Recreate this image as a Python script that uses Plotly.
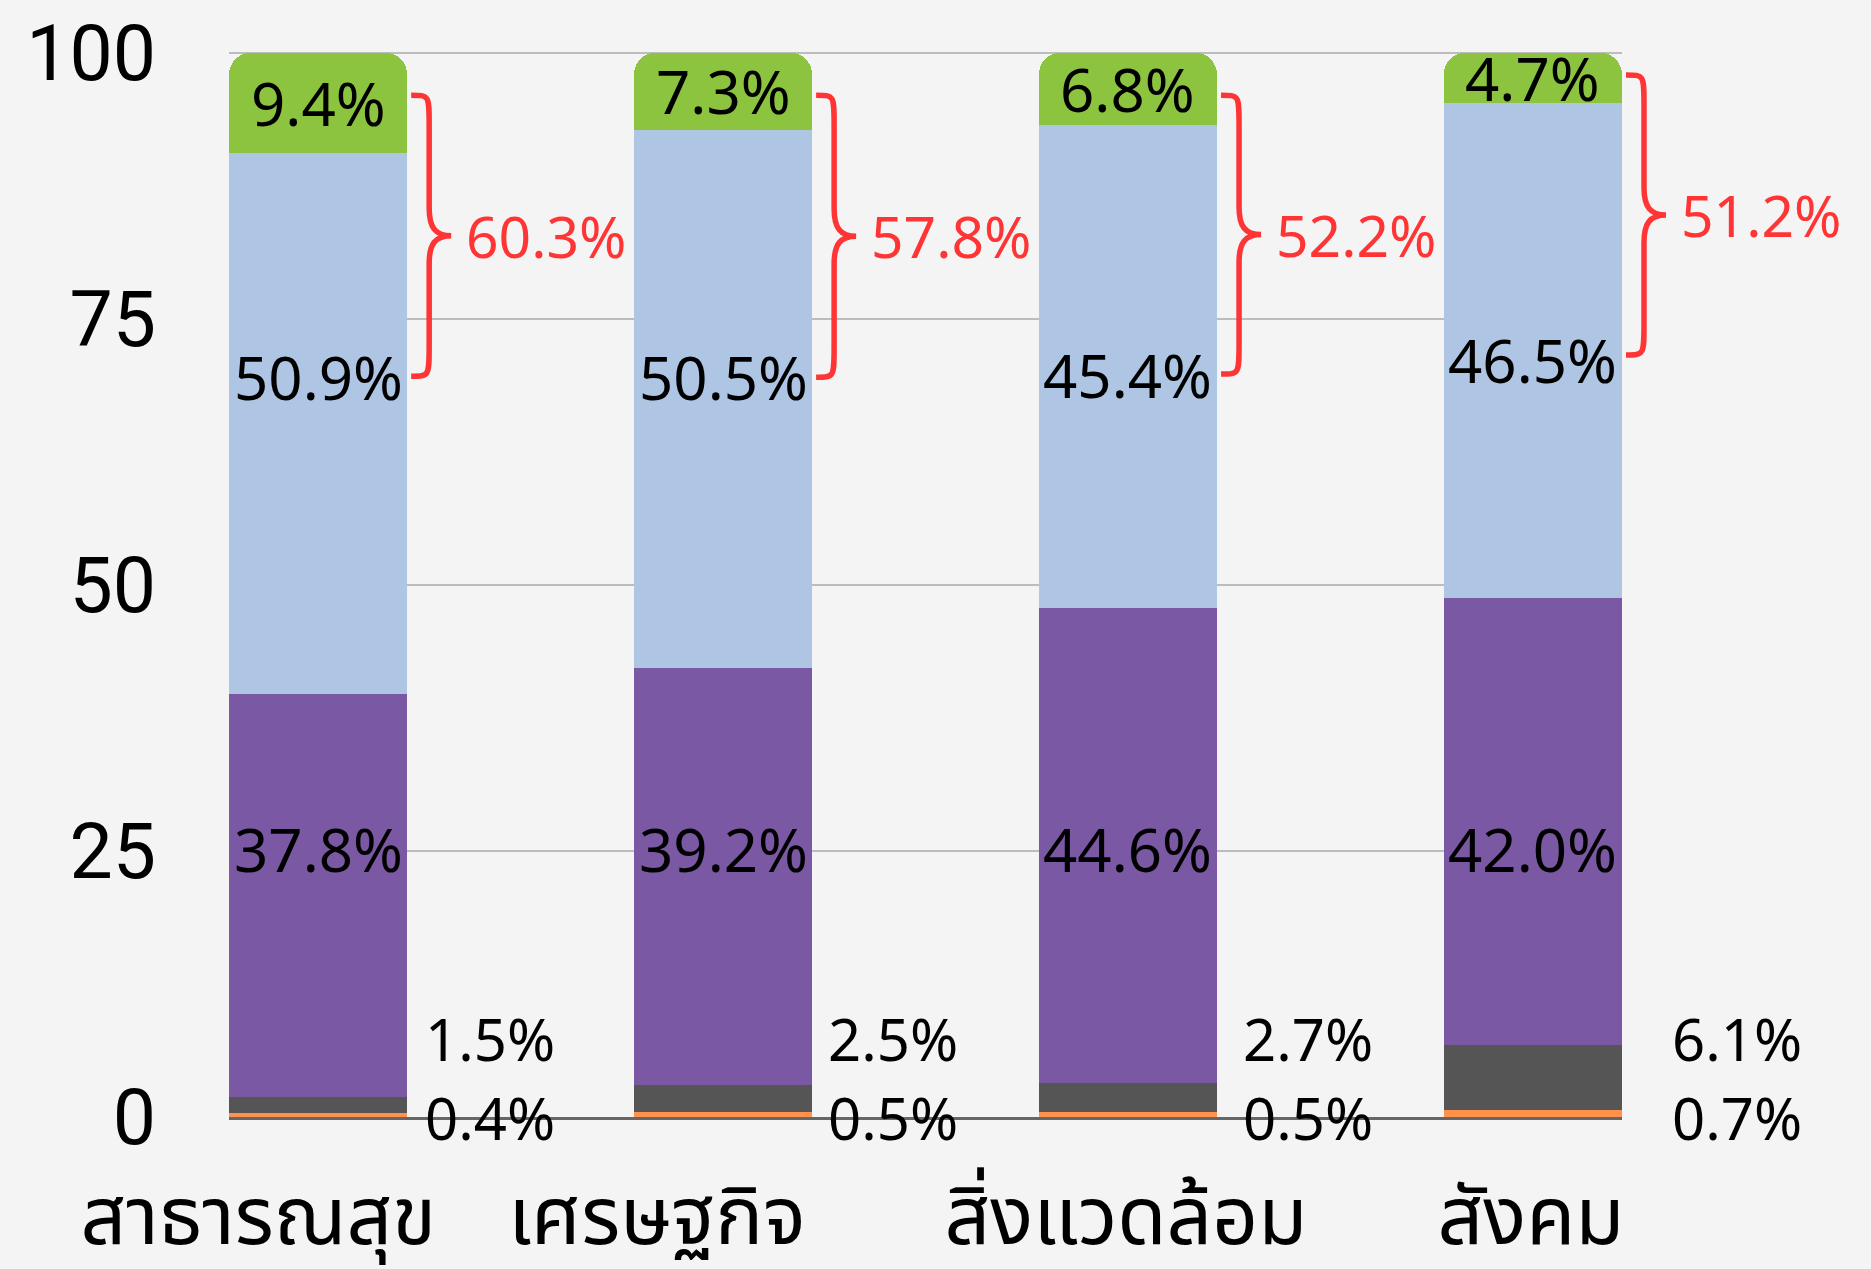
import plotly.graph_objects as go

# ---------------- data ----------------
categories = ["สาธารณสุข", "เศรษฐกิจ", "สิ่งแวดล้อม", "สังคม"]
orange = [0.4, 0.5, 0.5, 0.7]
gray = [1.5, 2.5, 2.7, 6.1]
purple = [37.8, 39.2, 44.6, 42.0]
blue = [50.9, 50.5, 45.4, 46.5]
green = [9.4, 7.3, 6.8, 4.7]
y_ticks = [0, 25, 50, 75, 100]

# ---------------- layout constants ----------------
FONT = "'Noto Sans', 'Noto Sans Thai', Roboto, sans-serif"
TICK_FONT = "Roboto, 'Noto Sans', sans-serif"
BAR_W = 0.44
CAT_LABEL_SHIFT = [-0.148, -0.163, -0.005, -0.005]
BLUE_LABEL_Y = [69.5, 69.5, 69.7, 71.1]
PURPLE_LABEL_Y = 25.2
GRAY_LABEL_Y = 7.4
ORANGE_LABEL_Y = 0.0
SIDE_SHIFT = [16, 14, 24, 48]
BRACE_SPAN = [(96.0, 69.6), (96.0, 69.5), (96.0, 69.8), (97.9, 71.6)]
RED = "#ff3434"
COLORS = {"orange": "#ff914d", "gray": "#555555", "purple": "#7b58a3",
          "blue": "#aec6e4", "green": "#8cc43f"}
LABEL_SIZE = 60
Y_TOP = 100.15

xs = list(range(len(categories)))
x_range = [-BAR_W / 2, len(categories) - 1 + BAR_W / 2]


def to_paper(xv):
    return (xv - x_range[0]) / (x_range[1] - x_range[0])


fig = go.Figure()
for name, vals in [("orange", orange), ("gray", gray), ("purple", purple),
                   ("blue", blue), ("green", green)]:
    fig.add_trace(go.Bar(x=xs, y=vals, width=BAR_W, name=name,
                         marker=dict(color=COLORS[name], line=dict(width=0)),
                         hoverinfo="skip", showlegend=False))

ann = []
shapes = []
for i in xs:
    # inside labels
    g_mid = orange[i] + gray[i] + purple[i] + blue[i] + green[i] / 2
    for yv, txt in [(g_mid, green[i]), (BLUE_LABEL_Y[i], blue[i]), (PURPLE_LABEL_Y, purple[i])]:
        ann.append(dict(x=i, y=yv, xref="x", yref="y", text=f"{txt:.1f}%",
                        showarrow=False,
                        font=dict(family=FONT, size=LABEL_SIZE, color="black")))
    # side labels
    right = i + BAR_W / 2
    for yv, txt in [(GRAY_LABEL_Y, gray[i]), (ORANGE_LABEL_Y, orange[i])]:
        ann.append(dict(x=right, y=yv, xref="x", yref="y", text=f"{txt:.1f}%",
                        xanchor="left", xshift=SIDE_SHIFT[i],
                        showarrow=False,
                        font=dict(family=FONT, size=LABEL_SIZE - 2, color="black")))
    # brace + total
    T, B = BRACE_SPAN[i]
    M = (T + B) / 2
    ke, km = 2.8, 2.6
    a, v, t = 4, 22, 44
    path = (f"M {a},{T} C {v},{T} {v},{T} {v},{T-ke} L {v},{M+km} "
            f"C {v},{M+km*0.3} {v+6},{M} {t},{M} "
            f"C {v+6},{M} {v},{M-km*0.3} {v},{M-km} L {v},{B+ke} "
            f"C {v},{B} {v},{B} {a},{B}")
    shapes.append(dict(type="path", xref="paper", yref="y", xsizemode="pixel",
                       xanchor=to_paper(right), path=path,
                       line=dict(color=RED, width=5.5)))
    total = blue[i] + green[i]
    ann.append(dict(x=right, y=M, xref="x", yref="y", text=f"{total:.1f}%",
                    xanchor="left", xshift=57, showarrow=False,
                    font=dict(family=FONT, size=57, color=RED)))

fig.update_layout(
    barmode="stack",
    barcornerradius=22,
    width=1871, height=1269,
    margin=dict(l=229, r=249, t=51, b=152),
    paper_bgcolor="#f4f4f4", plot_bgcolor="#f4f4f4",
    annotations=ann, shapes=shapes,
    font=dict(family=FONT, color="black"),
)
fig.update_xaxes(
    range=x_range, automargin=False, ticklabeloverflow="allow",
    tickvals=[i + s for i, s in zip(xs, CAT_LABEL_SHIFT)],
    ticktext=categories, ticks="", showgrid=False, zeroline=False,
    showline=True, linecolor="#666666", linewidth=2.5,
    tickfont=dict(family=FONT, size=80, color="black"),
    ticklabelstandoff=28,
)
fig.update_yaxes(
    range=[0, Y_TOP], automargin=False, ticklabeloverflow="allow",
    tickvals=y_ticks, ticktext=[str(t) for t in y_ticks],
    showgrid=True, gridcolor="#bdbdbd", gridwidth=1.5, zeroline=False,
    ticks="", tickfont=dict(family=TICK_FONT, size=77, color="black"),
    ticklabelstandoff=72,
)

fig.write_html("out.html", config={"displayModeBar": False},
               post_script="document.body.style.margin='0';")
